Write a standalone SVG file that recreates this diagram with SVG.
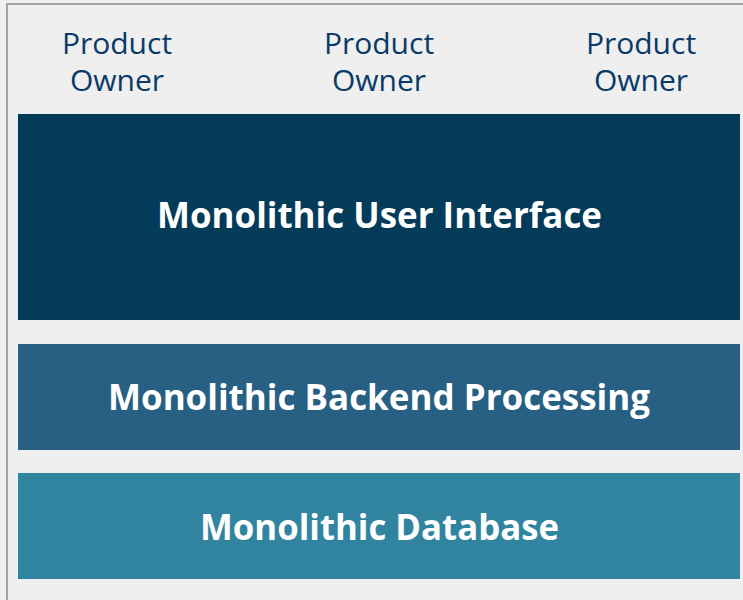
<svg xmlns="http://www.w3.org/2000/svg" width="743" height="600" viewBox="0 0 743 600">
<style>
.owner{font-family:"Open Sans","Noto Sans",sans-serif;font-size:30px;fill:#0a3a68;text-anchor:middle}
.lbl{font-family:"Open Sans","Noto Sans",sans-serif;font-size:35px;font-weight:bold;fill:#ffffff;text-anchor:middle}
</style>
<rect x="0" y="0" width="743" height="600" fill="#efefef"/>
<path d="M7 600 V4 H743" fill="none" stroke="#a3a3a3" stroke-width="2"/>
<g id="owner1"><text class="owner" x="117" y="54">Product</text><text class="owner" x="117" y="91">Owner</text></g>
<g id="owner2"><text class="owner" x="379" y="54">Product</text><text class="owner" x="379" y="91">Owner</text></g>
<g id="owner3"><text class="owner" x="641" y="54">Product</text><text class="owner" x="641" y="91">Owner</text></g>
<g id="ui"><rect x="18" y="114" width="722" height="206" fill="#033b59"/><text class="lbl" x="379.5" y="228" textLength="445" lengthAdjust="spacingAndGlyphs">Monolithic User Interface</text></g>
<g id="backend"><rect x="18" y="344" width="722" height="106" fill="#276083"/><text class="lbl" x="379" y="410" textLength="542" lengthAdjust="spacingAndGlyphs">Monolithic Backend Processing</text></g>
<g id="database"><rect x="18" y="473" width="722" height="106" fill="#30849f"/><text class="lbl" x="379.5" y="540" textLength="359" lengthAdjust="spacingAndGlyphs">Monolithic Database</text></g>
<g id="connectors"/>
</svg>
